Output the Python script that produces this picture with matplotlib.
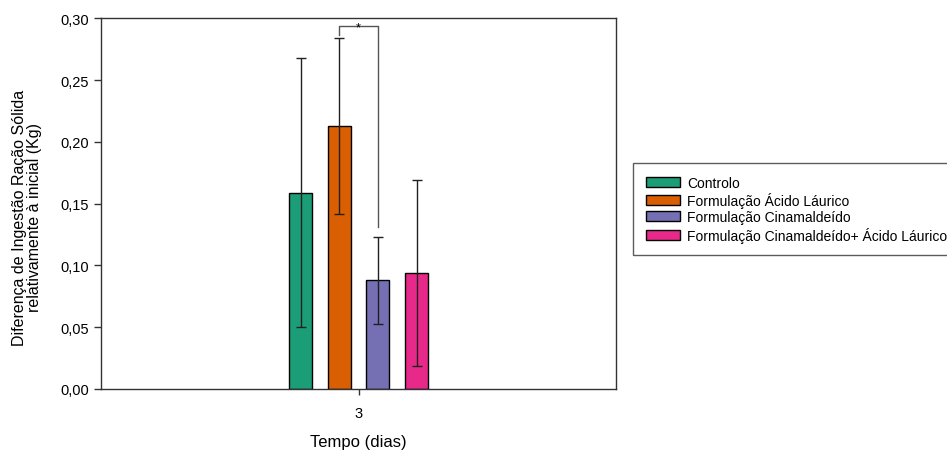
import numpy as np
from matplotlib import pyplot as plt
from matplotlib.ticker import FuncFormatter

plt.rcParams['font.family'] = ['Liberation Sans', 'DejaVu Sans']

# Mean difference per group at day 3 and its standard deviation
groups = ['Controlo', 'Formulação Ácido Láurico', 'Formulação Cinamaldeído',
          'Formulação Cinamaldeído+ Ácido Láurico']
means = [0.159, 0.213, 0.088, 0.094]
errors = [0.109, 0.071, 0.035, 0.075]
colors = ['#1b9e77', '#d95f02', '#7570b3', '#e7298a']
day_label = '3'

fig = plt.figure(figsize=(9.47, 4.52), dpi=100)
ax = fig.add_axes([0.1067, 0.1372, 0.5438, 0.8197])

offsets = np.array([-1.5, -0.5, 0.5, 1.5])
for i in range(len(groups)):
    ax.bar(offsets[i], means[i], width=0.6, color=colors[i], edgecolor='black',
           linewidth=1, label=groups[i], zorder=2)
    ax.errorbar(offsets[i], means[i], yerr=errors[i], color='black', ecolor='#202020',
                elinewidth=1, capsize=3.8, capthick=1, zorder=3)

# Significance bracket between Ácido Láurico and Cinamaldeído
y_top = 0.294
left_end = means[1] + errors[1] + 0.003
right_end = means[2] + errors[2] + 0.008
ax.plot([offsets[1], offsets[1], offsets[2], offsets[2]],
        [left_end, y_top, y_top, right_end], color='#555555', lw=1, zorder=3)
ax.text((offsets[1] + offsets[2]) / 2, 0.290, '*', ha='center', va='baseline',
        fontsize=9)

ax.set_xlim(-6.66, 6.66)
ax.set_ylim(0, 0.30)
ax.set_xticks([0])
ax.set_xticklabels([day_label])
ax.set_yticks(np.arange(0, 0.301, 0.05))
ax.yaxis.set_major_formatter(FuncFormatter(lambda v, p: ('%.2f' % v).replace('.', ',')))
ax.tick_params(direction='out', length=5, width=1, labelsize=10.5, color='#333333')
ax.tick_params(axis='x', length=4, pad=8)

for s in ax.spines.values():
    s.set_color('#333333')
    s.set_linewidth(1)

ax.set_xlabel('Tempo (dias)', fontsize=12, va='top')
ax.xaxis.set_label_coords(0.499, -0.121)
ax.set_ylabel('Diferença de Ingestão Ração Sólida\nrelativamente à inicial (Kg)',
              fontsize=11.5, linespacing=0.98)
ax.yaxis.set_label_coords(-0.115, 0.465)

leg = fig.legend(loc='upper left', bbox_to_anchor=(633 / 947, 1 - 164 / 452),
                 borderaxespad=0, fontsize=10, frameon=True, fancybox=False,
                 handlelength=2.45, handleheight=0.72, handletextpad=0.55,
                 labelspacing=0.17, borderpad=0.9)
leg.get_frame().set_edgecolor('#333333')
leg.get_frame().set_linewidth(1)

plt.savefig('out.png', dpi=100)
